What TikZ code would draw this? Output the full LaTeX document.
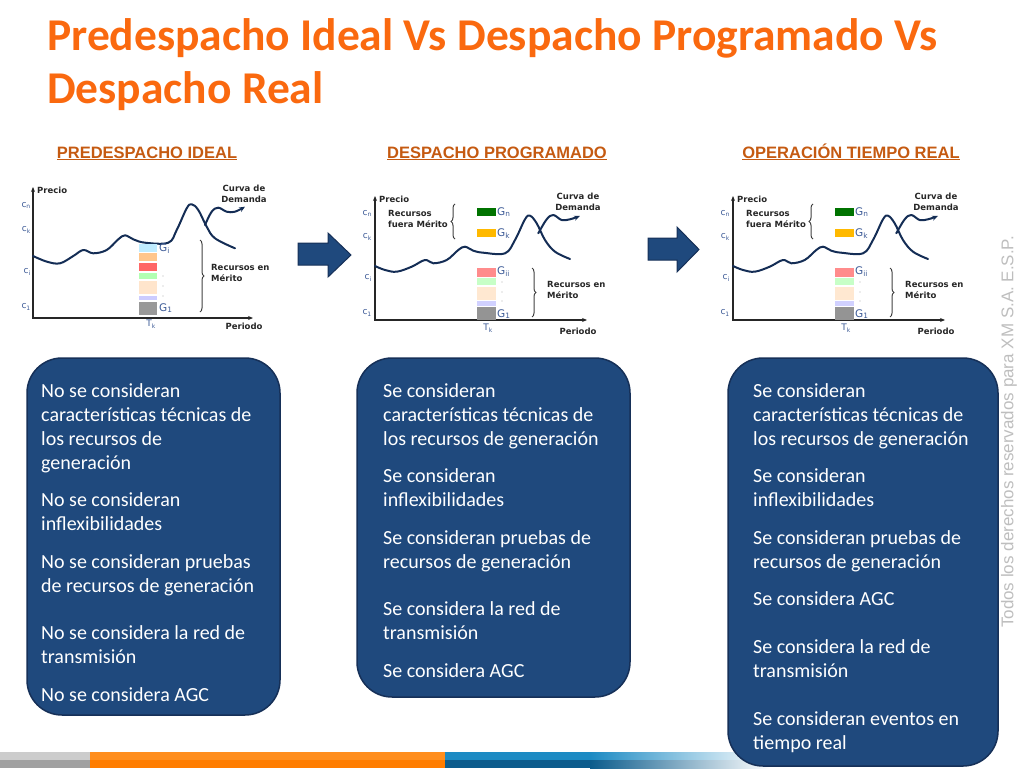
\documentclass[tikz,border=0pt]{standalone}
\usepackage{fontspec}
\setmainfont{Carlito}
\newfontfamily\headfont{Liberation Sans}
\newfontfamily\chartfont{DejaVu Sans}
\usetikzlibrary{arrows.meta,decorations.pathreplacing}

\definecolor{titleorange}{RGB}{250,105,15}
\definecolor{headorange}{RGB}{197,90,17}
\definecolor{boxblue}{RGB}{31,73,125}
\definecolor{boxline}{RGB}{22,48,88}
\definecolor{curvenavy}{RGB}{20,45,85}
\definecolor{tickblue}{RGB}{60,90,150}
\definecolor{notegray}{RGB}{190,190,190}
\definecolor{barorangeup}{RGB}{255,142,30}
\definecolor{barorangedn}{RGB}{255,125,0}
\definecolor{barblueup}{RGB}{28,138,195}
\definecolor{barbluedn}{RGB}{12,92,140}

\tikzset{
	axis/.style={draw=black!85, line width=1.2pt, arrows={Stealth[length=5pt,width=4pt]-Stealth[length=5pt,width=4pt]}},
	curve/.style={draw=curvenavy, line width=2pt, line cap=round, line join=round},
	brace/.style={decorate, decoration={brace,amplitude=4pt}, line width=1pt, draw=black!75},
	lbl/.style={font=\chartfont\bfseries\fontsize{8.5}{10.5}\selectfont, text=black!85, inner sep=0},
	tick/.style={font=\chartfont\fontsize{9}{10}\selectfont, text=tickblue, inner sep=0, anchor=east},
	gen/.style={font=\chartfont\fontsize{10.5}{11}\selectfont, text=tickblue, inner sep=0, anchor=west},
	panel/.style={draw=boxline, fill=boxblue, line width=1.5pt, rounded corners=35pt},
	para/.style={font=\fontsize{20}{24}\selectfont, text=white, align=left, anchor=base west, inner sep=0},
	heading/.style={font=\headfont\bfseries\fontsize{16.5}{18}\selectfont, text=headorange, inner sep=0, anchor=base},
	blockarrow/.style={fill=boxblue, draw=boxline, line width=1pt},
}

\begin{document}
\begin{tikzpicture}[x=1pt,y=-1pt]
	\useasboundingbox (0,0) rectangle (1024,768);

	% title
	\node	(t1) at (47,50) [anchor=base west, inner sep=0, text=titleorange, font=\bfseries\fontsize{45.5}{53}\selectfont] {Predespacho Ideal Vs Despacho Programado Vs};
	\node	(t2) at (47,103) [anchor=base west, inner sep=0, text=titleorange, font=\bfseries\fontsize{45.5}{53}\selectfont] {Despacho Real};

	\node	(h1) at (147,158) [heading] {\underline{PREDESPACHO IDEAL}};
	\node	(h2) at (497,158) [heading] {\underline{DESPACHO PROGRAMADO}};
	\node	(h3) at (851,158) [heading] {\underline{OPERACIÓN TIEMPO REAL}};

	% bottom bar
	\fill[black!20] (0,752) rectangle (90,760);
	\fill[black!37] (0,760) rectangle (90,768);
	\fill[barorangeup] (90,752) rectangle (445,760);
	\fill[barorangedn] (90,760) rectangle (445,768);
	\fill[barblueup] (445,752) rectangle (590,760);
	\fill[barbluedn] (445,760) rectangle (590,768);
	\shade[left color=barblueup, right color=white] (590,752) rectangle (770,760);
	\shade[left color=barbluedn, right color=white] (590,760) rectangle (770,768);

	% chart 1
	\draw[axis] (33,187) |- (253,318);
	\draw[curve] plot[smooth, tension=0.6] coordinates {(33,256) (47,261.7) (60,263.3) (73.3,256) (83.3,250) (93.3,253.3) (106.7,250) (118.3,239.3) (125,235.3) (133.3,239.3) (145,242.7) (168.3,242.7) (176.7,230) (186.7,208.3) (191.7,204.3) (198.3,210) (206.7,226.7) (215,238.3) (235,248.3)};
	\draw[curve, -{Stealth[length=6pt,width=5pt]}] plot[smooth, tension=0.6] coordinates {(205,225) (211.7,211.7) (218.3,207.7) (226.7,211.7) (235,211.7) (245,206.7)};
	\fill[blue!30!cyan!25] (139,244) rectangle (157,252);
	\fill[orange!45] (139,253) rectangle (157,261);
	\fill[red!60] (139,263) rectangle (157,271);
	\fill[green!30] (139,273) rectangle (157,279);
	\fill[orange!20] (139,281) rectangle (157,294);
	\fill[blue!20] (139,296) rectangle (157,300);
	\fill[black!40] (139,302) rectangle (157,315);
	\foreach \y in {276,286,296} \fill[black!30] (163,\y) circle (0.7);
	\draw[brace] (200,240) -- (200,312);
	\node	(p1) at (37,190) [lbl, anchor=west] {Precio};
	\node	(cd1) at (244,194) [lbl, align=center] {Curva de\\Demanda};
	\node	(re1) at (211,273) [lbl, align=left, anchor=west] {Recursos en\\Mérito};
	\node	(pe1) at (244,326) [lbl] {Periodo};
	\node	(tk1) at (151,324) [tick, anchor=center] {T\textsubscript{k}};
	\node	(cn1) at (31,205) [tick] {c\textsubscript{n}};
	\node	(ck1) at (31,230) [tick] {c\textsubscript{k}};
	\node	(ci1) at (31,272) [tick] {c\textsubscript{i}};
	\node	(ca1) at (31,307) [tick] {c\textsubscript{1}};
	\node	(gi1) at (159,249) [gen] {G\textsubscript{i}};
	\node	(ga1) at (159,308) [gen] {G\textsubscript{1}};

	% chart 2 and chart 3
	\foreach \dx in {0,358}{
	\begin{scope}[xshift=\dx]
		\draw[axis] (375,196) |- (587,320);
		\draw[curve] plot[smooth, tension=0.6] coordinates {(375,266) (385,270) (396.7,271.7) (411.7,266.7) (425,260) (433.3,263.3) (446.7,260) (458.3,250) (465,246.7) (473.3,250.7) (483.3,252.7) (505,253.3) (515,240) (525,219.3) (530,215.7) (536.7,223.3) (545,240) (555,251.7) (570,259)};
		\draw[curve, -{Stealth[length=6pt,width=5pt]}] plot[smooth, tension=0.6] coordinates {(538.3,233.3) (546.7,219.3) (553.3,215) (561.7,220) (570,219.3) (580,216)};
		\fill[green!45!black] (477,208) rectangle (496,216);
		\fill[orange!55!yellow] (477,229) rectangle (496,237);
		\fill[red!45] (477,268) rectangle (496,277);
		\fill[green!22] (477,278) rectangle (496,285);
		\fill[orange!18] (477,287) rectangle (496,300);
		\fill[blue!18] (477,301) rectangle (496,306);
		\fill[black!42] (477,307) rectangle (496,320);
		\foreach \y in {282,292,301} \fill[black!30] (502,\y) circle (0.7);
		\draw[brace] (455,239) -- (455,204);
		\draw[brace] (532,268) -- (532,317);
		\node	(p\dx) at (379,199) [lbl, anchor=west] {Precio};
		\node	(cd\dx) at (578,202) [lbl, align=center] {Curva de\\Demanda};
		\node	(rf\dx) at (388,219) [lbl, align=left, anchor=west] {Recursos\\fuera Mérito};
		\node	(re\dx) at (547,290) [lbl, align=left, anchor=west] {Recursos en\\Mérito};
		\node	(pe\dx) at (578,331) [lbl] {Periodo};
		\node	(tk\dx) at (488,328) [tick, anchor=center] {T\textsubscript{k}};
		\node	(cn\dx) at (372,213) [tick] {c\textsubscript{n}};
		\node	(ck\dx) at (372,237) [tick] {c\textsubscript{k}};
		\node	(ci\dx) at (372,278) [tick] {c\textsubscript{i}};
		\node	(ca\dx) at (372,313) [tick] {c\textsubscript{1}};
		\node	(gn\dx) at (497,212) [gen] {G\textsubscript{n}};
		\node	(gk\dx) at (497,234) [gen] {G\textsubscript{k}};
		\node	(gi\dx) at (497,272) [gen] {G\textsubscript{ii}};
		\node	(ga\dx) at (497,314) [gen] {G\textsubscript{1}};
	\end{scope}
	}

	% block arrows
	\draw[blockarrow] (298,243) -- (328,243) -- (328,233) -- (351,255) -- (328,277) -- (328,265) -- (298,265) -- cycle;
	\draw[blockarrow] (648,238) -- (677,238) -- (677,227) -- (699,249.5) -- (677,272) -- (677,260) -- (648,260) -- cycle;

	% text boxes (base = last line)
	\node	(box1) at (153.5,536.5) [panel, minimum width=253, minimum height=357] {};
	\node	(box2) at (493.5,527.5) [panel, minimum width=273, minimum height=339] {};
	\node	(box3) at (863,562) [panel, minimum width=270, minimum height=408] {};

	\node	(a1) at (41,469) [para] {No se consideran\\características técnicas de\\los recursos de\\generación};
	\node	(a2) at (41,530) [para] {No se consideran\\inflexibilidades};
	\node	(a3) at (41,592) [para] {No se consideran pruebas\\de recursos de generación};
	\node	(a4) at (41,663) [para] {No se considera la red de\\transmisión};
	\node	(a5) at (41,701) [para] {No se considera AGC};

	\node	(b1) at (383,445) [para] {Se consideran\\características técnicas de\\los recursos de generación};
	\node	(b2) at (383,506) [para] {Se consideran\\inflexibilidades};
	\node	(b3) at (383,568) [para] {Se consideran pruebas de\\recursos de generación};
	\node	(b4) at (383,639) [para] {Se considera la red de\\transmisión};
	\node	(b5) at (383,677) [para] {Se considera AGC};

	\node	(c1) at (753,445) [para] {Se consideran\\características técnicas de\\los recursos de generación};
	\node	(c2) at (753,506) [para] {Se consideran\\inflexibilidades};
	\node	(c3) at (753,568) [para] {Se consideran pruebas de\\recursos de generación};
	\node	(c4) at (753,605) [para] {Se considera AGC};
	\node	(c5) at (753,677) [para] {Se considera la red de\\transmisión};
	\node	(c6) at (753,749) [para] {Se consideran eventos en\\tiempo real};

	% side note
	\node	(note) at (1009,432) [rotate=90, inner sep=0, text=notegray, font=\headfont\fontsize{17}{18}\selectfont] {Todos los derechos reservados para XM S.A. E.S.P.};
\end{tikzpicture}
\end{document}
